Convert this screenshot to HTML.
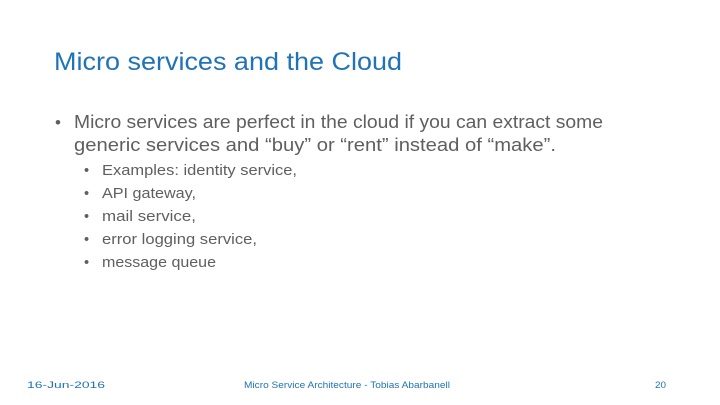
<!DOCTYPE html>
<html><head><style>html,body{margin:0;padding:0;background:#fff;}svg{display:block}</style></head>
<body>
<svg width="720" height="405" xmlns="http://www.w3.org/2000/svg" font-family="Liberation Sans, sans-serif">
<rect width="720" height="405" fill="#fff"/>
<text x="54" y="70" font-size="25" fill="#1f73b7" textLength="348" lengthAdjust="spacingAndGlyphs">Micro services and the Cloud</text>
<g fill="#5f5f5f">
<text x="55" y="128" font-size="17">•</text>
<text x="74" y="128" font-size="18.5" textLength="529" lengthAdjust="spacingAndGlyphs">Micro services are perfect in the cloud if you can extract some</text>
<text x="74" y="151" font-size="18.5" textLength="482" lengthAdjust="spacingAndGlyphs">generic services and “buy” or “rent” instead of “make”.</text>
<g font-size="14.5">
<text x="84" y="175">•</text><text x="102" y="175" textLength="195" lengthAdjust="spacingAndGlyphs">Examples: identity service,</text>
<text x="84" y="198">•</text><text x="102" y="198" textLength="94" lengthAdjust="spacingAndGlyphs">API gateway,</text>
<text x="84" y="221">•</text><text x="102" y="221" textLength="94" lengthAdjust="spacingAndGlyphs">mail service,</text>
<text x="84" y="244">•</text><text x="102" y="244" textLength="155" lengthAdjust="spacingAndGlyphs">error logging service,</text>
<text x="84" y="267">•</text><text x="102" y="267" textLength="114" lengthAdjust="spacingAndGlyphs">message queue</text>
</g></g>
<g fill="#1f73b7" font-size="9">
<text x="27" y="388" textLength="78" lengthAdjust="spacingAndGlyphs">16-Jun-2016</text>
<text x="244" y="388" textLength="206" lengthAdjust="spacingAndGlyphs">Micro Service Architecture - Tobias Abarbanell</text>
<text x="655" y="388" textLength="11" lengthAdjust="spacingAndGlyphs">20</text>
</g>
</svg>
</body></html>
